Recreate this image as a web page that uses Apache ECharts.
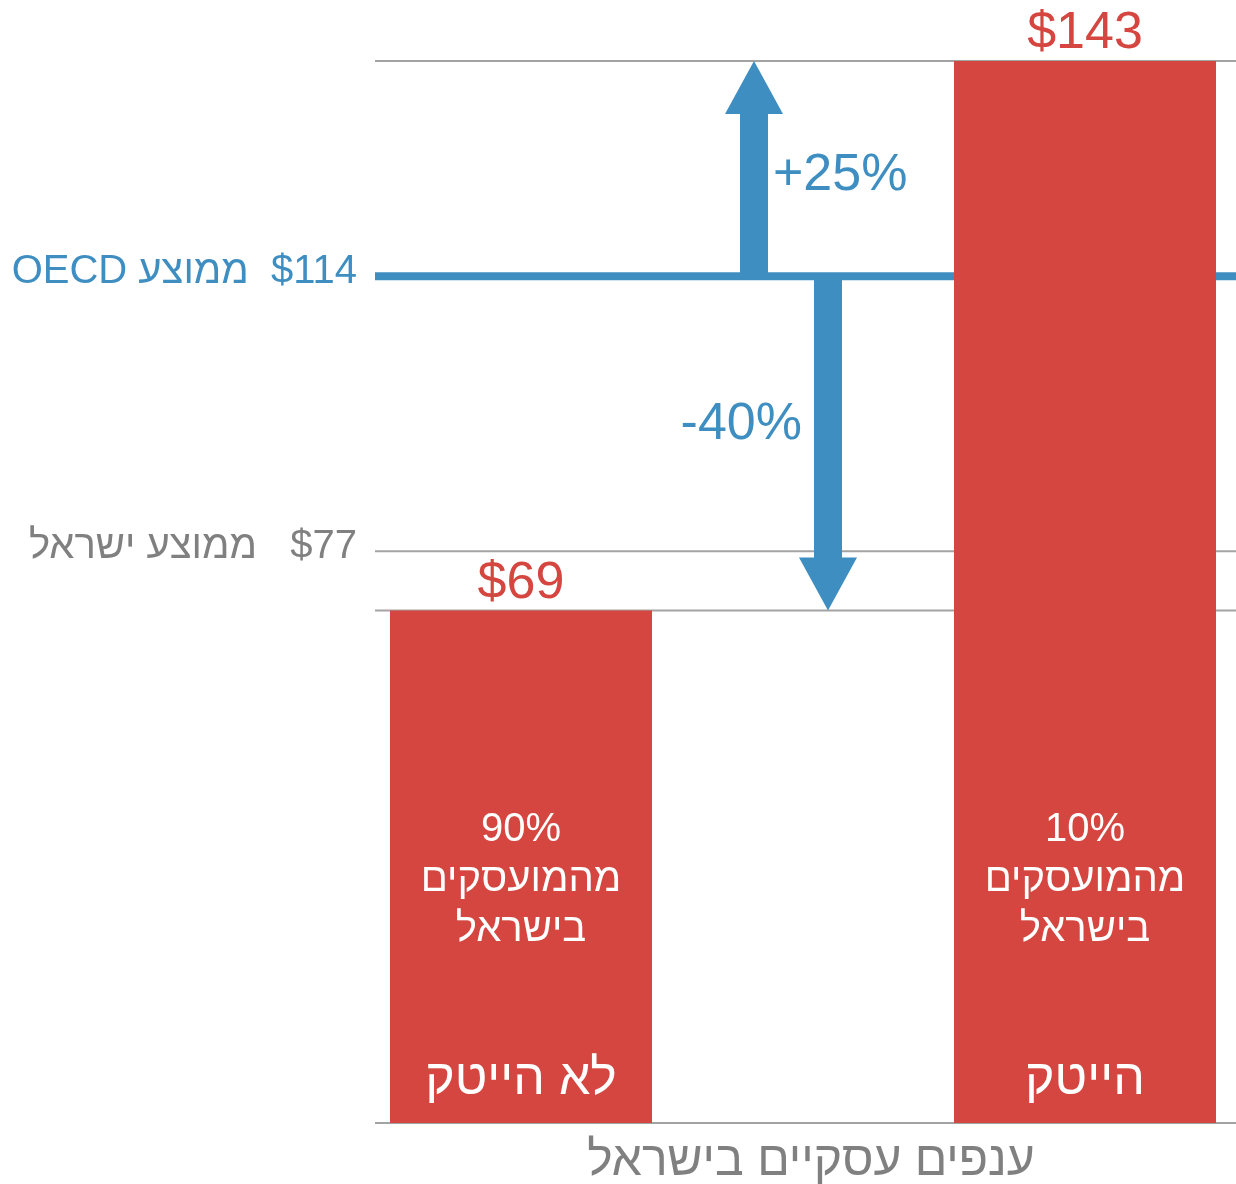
<!DOCTYPE html>
<html>
<head>
<meta charset="utf-8">
<script src="https://cdn.jsdelivr.net/npm/echarts@6/dist/echarts.min.js"></script>
<style>
  html, body { margin: 0; padding: 0; background: #ffffff; }
  #chart { width: 1236px; height: 1184px; }
</style>
</head>
<body>
<div id="chart"></div>
<script>
// ---- data ----
const categories = ['לא הייטק', '', 'הייטק'];
const wages = [69, null, 143];
const shares = ['90%', '', '10%'];
const oecdAverage = 114;
const israelAverage = 77;
const refLineValues = [143, 114, 77, 69, 0];
const refLineLabels = ['', 'OECD ממוצע\u200E  $114', 'ממוצע ישראל\u200E   $77', '', ''];
const arrowFrom = [114, 114];
const arrowTo = [143, 69];
const arrowLabels = ['+25%', '-40%'];
const axisTitle = 'ענפים עסקיים בישראל';

// ---- styles ----
const RED = '#d4463f';
const BLUE = '#3f8ec1';
const GRAY_TEXT = '#808080';
const GRAY_LINE = '#a3a3a3';
const FONT = '"Liberation Sans", Arial, "DejaVu Sans", sans-serif';

const chart = echarts.init(document.getElementById('chart'), null, { renderer: 'canvas' });

const arrowOffsets = [-49, 25];

const option = {
  animation: false,
  backgroundColor: '#ffffff',
  textStyle: { fontFamily: FONT },
  grid: { left: 380, right: 10, top: 61, bottom: 61, containLabel: false, outerBoundsMode: 'none' },
  xAxis: {
    type: 'category',
    data: categories,
    axisLine: { show: false },
    axisTick: { show: false },
    axisLabel: { show: false },
    splitLine: { show: false },
    name: axisTitle,
    nameLocation: 'middle',
    nameGap: 15,
    nameTextStyle: { fontSize: 48, color: GRAY_TEXT, fontFamily: FONT, padding: [0, 0, 0, 16] }
  },
  yAxis: {
    type: 'value',
    min: 0,
    max: 143,
    show: false
  },
  series: [
    {
      name: 'refLines',
      type: 'custom',
      z: 1,
      silent: true,
      data: refLineValues.map(v => [0, v]),
      encode: { x: 0, y: 1 },
      renderItem: function (params, api) {
        const i = params.dataIndex;
        const v = api.value(1);
        const cs = params.coordSys;
        const y = api.coord([0, v])[1];
        const x0 = cs.x - 5;
        const x1 = cs.x + cs.width + 10;
        const isOecd = v === oecdAverage;
        const children = [{
          type: 'line',
          shape: { x1: x0, y1: y, x2: x1, y2: y },
          style: { stroke: isOecd ? BLUE : GRAY_LINE, lineWidth: isOecd ? 8 : 2 }
        }];
        if (refLineLabels[i]) {
          children.push({
            type: 'text',
            style: {
              text: refLineLabels[i],
              x: x0 - 18,
              y: y - 4,
              align: 'right',
              verticalAlign: 'middle',
              fill: isOecd ? BLUE : GRAY_TEXT,
              fontSize: 40,
              fontFamily: FONT
            }
          });
        }
        return { type: 'group', children: children };
      }
    },
    {
      name: 'wage',
      type: 'bar',
      data: wages,
      barWidth: 262,
      z: 2,
      itemStyle: { color: RED },
      label: {
        show: true,
        position: 'top',
        distance: 1,
        formatter: p => '$' + p.value,
        color: RED,
        fontSize: 52,
        fontFamily: FONT
      }
    },
    {
      name: 'inside',
      type: 'bar',
      data: wages,
      barWidth: 262,
      barGap: '-100%',
      z: 3,
      silent: true,
      itemStyle: { color: 'rgba(0,0,0,0)' },
      label: {
        show: true,
        position: 'insideBottom',
        distance: 13,
        formatter: p => '{p|' + shares[p.dataIndex] + '}\n{h|מהמועסקים}\n{h|בישראל}\n{s| }\n{c|' + categories[p.dataIndex] + '}',
        rich: {
          p: { fontSize: 40, lineHeight: 50, color: '#ffffff', fontFamily: FONT, align: 'center' },
          h: { fontSize: 40, lineHeight: 50, color: '#ffffff', fontFamily: FONT, align: 'center' },
          s: { fontSize: 10, lineHeight: 95, color: '#ffffff', align: 'center' },
          c: { fontSize: 50, lineHeight: 60, color: '#ffffff', fontFamily: FONT, align: 'center' }
        }
      }
    },
    {
      name: 'arrows',
      type: 'custom',
      z: 4,
      silent: true,
      data: arrowTo.map((t, i) => [1, arrowFrom[i], t]),
      renderItem: function (params, api) {
        const i = params.dataIndex;
        const c0 = api.coord([api.value(0), api.value(1)]);
        const c1 = api.coord([api.value(0), api.value(2)]);
        const x = c0[0] + arrowOffsets[i];
        const y0 = c0[1];
        const y1 = c1[1];
        const dir = y1 < y0 ? 1 : -1; // 1 = pointing up
        const headLen = 53, shaftHalf = 14, headHalf = 29;
        const baseY = y1 + dir * headLen;
        const points = [
          [x - shaftHalf, y0], [x - shaftHalf, baseY], [x - headHalf, baseY],
          [x, y1], [x + headHalf, baseY], [x + shaftHalf, baseY], [x + shaftHalf, y0]
        ];
        const mid = (y0 + y1) / 2;
        const up = dir === 1;
        return {
          type: 'group',
          children: [
            { type: 'polygon', shape: { points: points }, style: { fill: BLUE } },
            {
              type: 'text',
              style: {
                text: arrowLabels[i],
                x: up ? x + 19 : x - 26,
                y: up ? mid + 7 : mid - 19,
                align: up ? 'left' : 'right',
                verticalAlign: 'middle',
                fill: BLUE,
                fontSize: 52,
                fontFamily: FONT
              }
            }
          ]
        };
      }
    }
  ]
};

chart.setOption(option);
</script>
</body>
</html>
